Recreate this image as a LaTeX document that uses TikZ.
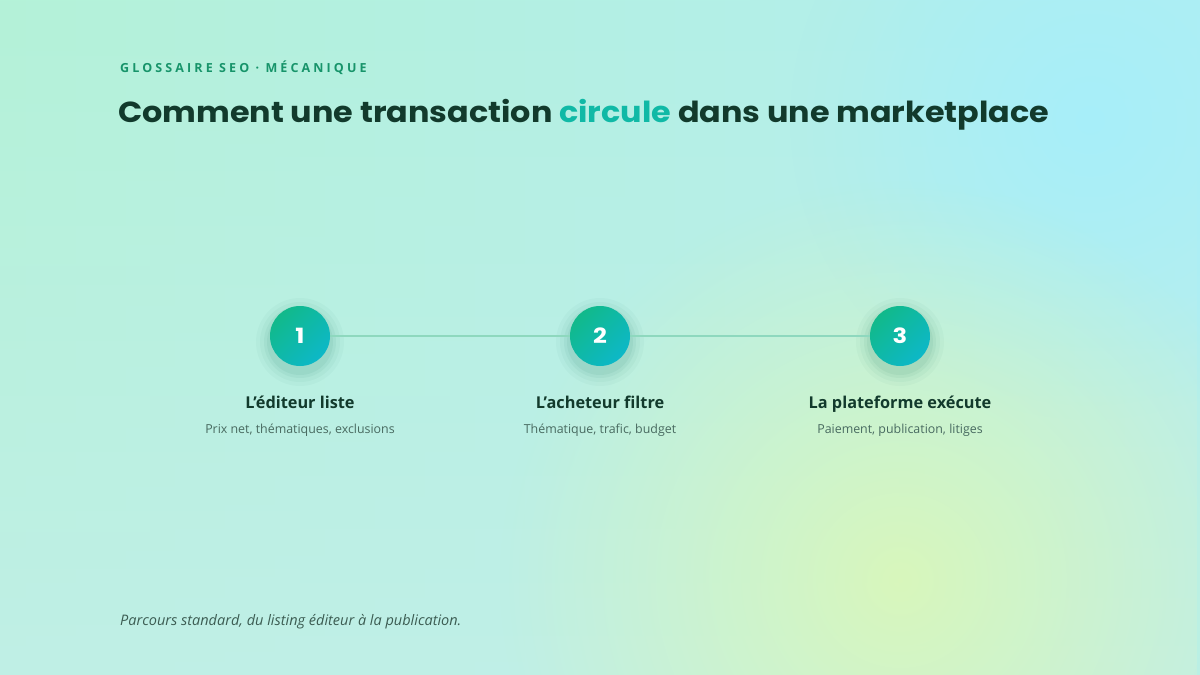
\documentclass[tikz,border=0pt]{standalone}
\usepackage{fontspec}
\setmainfont{Open Sans}
\newfontfamily\titlefont{Poppins}
\usetikzlibrary{fadings}
\tikzfading[name=glowfade, inner color=transparent!0, outer color=transparent!100]
\tikzfading[name=bottomfade, top color=transparent!100, bottom color=transparent!0]
\definecolor{bgA}{HTML}{B4F2D8}
\definecolor{bgB}{HTML}{B2EEF0}
\definecolor{bgC}{HTML}{C2EFE8}
\definecolor{glowC}{HTML}{A6EEFB}
\definecolor{glowY}{HTML}{DDF8B4}
\definecolor{eyebrow}{HTML}{17946A}
\definecolor{ink}{HTML}{123A2C}
\definecolor{accent}{HTML}{10B9A6}
\definecolor{sub}{HTML}{486A60}
\definecolor{foot}{HTML}{3C5C52}
\definecolor{cA}{HTML}{11B98A}
\definecolor{cB}{HTML}{0DB8C8}
\definecolor{linkc}{HTML}{8ED8BE}
\tikzset{
  stepcirc/.style={circle, minimum size=60pt, inner sep=0pt, text=white,
    font=\titlefont\bfseries\fontsize{21}{21}\selectfont},
  stephead/.style={anchor=base, text=ink, font=\bfseries\fontsize{16.3}{18}\selectfont},
  stepsub/.style={anchor=base, text=sub, font=\fontsize{12.4}{14}\selectfont},
  link/.style={draw=linkc, line width=2.2pt},
}
\begin{document}
\begin{tikzpicture}[x=1pt,y=-1pt]
\useasboundingbox (0,0) rectangle (1200,675);
% background
\shade[left color=bgA, right color=bgB] (0,0) rectangle (1200,675);
\fill[bgC, path fading=bottomfade, opacity=0.85] (0,0) rectangle (1200,675);
\fill[glowC, path fading=glowfade, opacity=0.9] (1090,120) circle (300);
\fill[glowY, path fading=glowfade, opacity=0.85] (900,580) circle (400);
% header
\node[anchor=base west, inner sep=0, text=eyebrow,
  font=\bfseries\fontsize{12.5}{14}\selectfont\addfontfeatures{LetterSpace=25}]
  (eyebrow) at (120,72) {GLOSSAIRE SEO · MÉCANIQUE};
\node[anchor=base west, inner sep=0, text=ink,
  font=\titlefont\bfseries\fontsize{29}{32}\selectfont]
  (title) at (118,122) {\scalebox{1.098}[1]{Comment une transaction \textcolor{accent}{circule} dans une marketplace}};
% shadows
\foreach \x in {300,600,900}{
  \foreach \r/\o in {44/0.03,40/0.04,36/0.05,33/0.06}{
    \fill[cA!60!black, opacity=\o] (\x,342) circle (\r);
  }
}
% circles
\foreach \i/\x in {1/300,2/600,3/900}{
  \node[stepcirc] (c\i) at (\x,336) {};
}
\draw[link] (c1) -- (c2);
\draw[link] (c2) -- (c3);
\foreach \i in {1,2,3}{
  \shade[left color=cA, right color=cB, shading angle=45] (c\i.center) circle (30);
}
\foreach \i in {1,2,3}{
  \node[stepcirc] (n\i) at (c\i.center) {\scalebox{1.15}[1]{\i}};
}
% labels
\node[stephead] (h1) at (300,408) {L'éditeur liste};
\node[stephead] (h2) at (600,408) {L'acheteur filtre};
\node[stephead] (h3) at (900,408) {La plateforme exécute};
\node[stepsub] (s1) at (300,433) {Prix net, thématiques, exclusions};
\node[stepsub] (s2) at (600,433) {Thématique, trafic, budget};
\node[stepsub] (s3) at (900,433) {Paiement, publication, litiges};
% footer
\node[anchor=base west, inner sep=0, text=foot,
  font=\itshape\fontsize{14.5}{16}\selectfont] (footer) at (120,625)
  {Parcours standard, du listing éditeur à la publication.};
\end{tikzpicture}
\end{document}
